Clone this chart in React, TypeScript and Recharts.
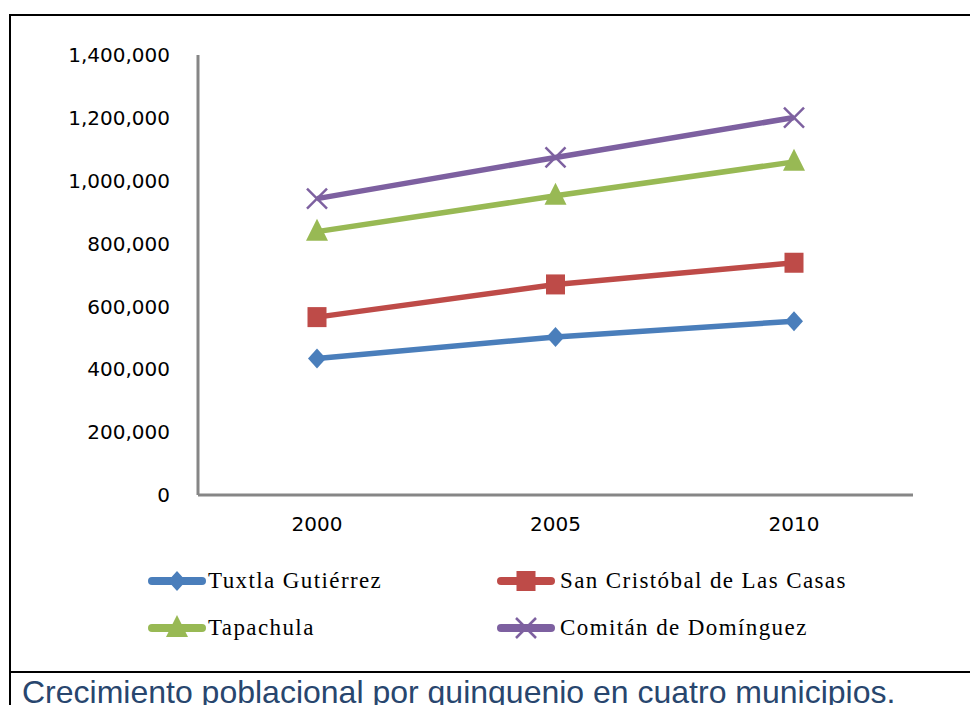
import React from 'react';
import { LineChart, Line, XAxis, YAxis, Legend } from 'recharts';

// Years on the x axis
const years = ['2000', '2005', '2010'];

// Values as drawn in the chart (each line sits on top of the previous one)
const tuxtla = [434000, 503000, 553000];
const sanCristobal = [566000, 670000, 739000];
const tapachula = [838000, 952000, 1060000];
const comitan = [943000, 1074000, 1201000];

const yTicks = [0, 200000, 400000, 600000, 800000, 1000000, 1200000, 1400000];

const seriesNames = ['Tuxtla Gutiérrez', 'San Cristóbal de Las Casas', 'Tapachula', 'Comitán de Domínguez'];
const seriesColors = ['#4a7ebb', '#be4b48', '#98b954', '#7d60a0'];
const seriesKeys = ['tuxtla', 'sanCristobal', 'tapachula', 'comitan'];
const markers = ['diamond', 'square', 'triangle', 'cross'];

const data = years.map((year, i) => ({
  year,
  tuxtla: tuxtla[i],
  sanCristobal: sanCristobal[i],
  tapachula: tapachula[i],
  comitan: comitan[i],
}));

const Marker = ({ type, cx, cy, color }: { type: string; cx: number; cy: number; color: string }) => {
  if (type === 'diamond') {
    return <polygon points={`${cx},${cy - 10} ${cx + 9},${cy} ${cx},${cy + 10} ${cx - 9},${cy}`} fill={color} />;
  }
  if (type === 'square') {
    return <rect x={cx - 9.5} y={cy - 10} width={19} height={20} fill={color} />;
  }
  if (type === 'triangle') {
    return <polygon points={`${cx},${cy - 13} ${cx + 11},${cy + 9} ${cx - 11},${cy + 9}`} fill={color} />;
  }
  return (
    <g stroke={color} strokeWidth={2.5}>
      <line x1={cx - 10} y1={cy - 10} x2={cx + 10} y2={cy + 10} />
      <line x1={cx - 10} y1={cy + 10} x2={cx + 10} y2={cy - 10} />
    </g>
  );
};

const makeDot = (type: string, color: string) => (props: any) => (
  <Marker key={`${type}-${props.index}`} type={type} cx={props.cx} cy={props.cy} color={color} />
);

const renderLegend = () => {
  const cols = [148, 497];
  const rows = [581, 628];
  return (
    <div style={{ position: 'relative', width: 970, height: 90 }}>
      {seriesNames.map((name, i) => {
        const left = cols[i % 2];
        const top = rows[Math.floor(i / 2)] - 556;
        return (
          <div key={name} style={{ position: 'absolute', left, top: top - 15, height: 30, display: 'flex', alignItems: 'center' }}>
            <svg width={58} height={30}>
              <line x1={4} y1={15} x2={54} y2={15} stroke={seriesColors[i]} strokeWidth={8} strokeLinecap="round" />
              <Marker type={markers[i]} cx={29} cy={15} color={seriesColors[i]} />
            </svg>
            <span
              style={{
                fontFamily: '"Liberation Serif", "Times New Roman", serif',
                fontSize: 23,
                letterSpacing: 1.4,
                color: '#000',
                marginLeft: i % 2 === 0 ? 2 : 5,
                whiteSpace: 'nowrap',
              }}
            >
              {name}
            </span>
          </div>
        );
      })}
    </div>
  );
};

export default function App() {
  return (
    <div style={{ position: 'absolute', left: 0, top: 0, width: 970, height: 705, overflow: 'hidden', background: '#fff' }}>
      {/* table frame */}
      <div style={{ position: 'absolute', left: 9, top: 14, width: 2, height: 700, background: '#000' }} />
      <div style={{ position: 'absolute', left: 9, top: 14, width: 970, height: 2, background: '#000' }} />
      <div style={{ position: 'absolute', left: 9, top: 671, width: 970, height: 2, background: '#000' }} />

      <div style={{ position: 'absolute', left: 0, top: 0 }}>
        <LineChart width={970} height={672} data={data} margin={{ top: 55, right: 57, bottom: 147, left: 0 }}>
          <XAxis
            dataKey="year"
            height={30}
            padding={{ left: 119, right: 119 }}
            axisLine={{ stroke: '#868686', strokeWidth: 3 }}
            tickLine={false}
            tickSize={0}
            tickMargin={22}
            tick={{ fill: '#000', fontSize: 20, fontFamily: '"DejaVu Sans", sans-serif' }}
          />
          <YAxis
            width={198}
            domain={[0, 1400000]}
            ticks={yTicks}
            interval={0}
            axisLine={{ stroke: '#868686', strokeWidth: 3 }}
            tickLine={false}
            tickSize={0}
            tickMargin={28}
            tickFormatter={(v: number) => v.toLocaleString('en-US')}
            tick={{ fill: '#000', fontSize: 20, fontFamily: '"DejaVu Sans", sans-serif' }}
          />
          <Legend
            layout="vertical"
            align="center"
            verticalAlign="middle"
            content={renderLegend}
            wrapperStyle={{ left: 0, top: 556, width: 970, height: 90 }}
          />
          {seriesKeys.map((key, i) => (
            <Line
              key={key}
              dataKey={key}
              name={seriesNames[i]}
              stroke={seriesColors[i]}
              strokeWidth={5.5}
              dot={makeDot(markers[i], seriesColors[i])}
              activeDot={false}
              isAnimationActive={false}
            />
          ))}
        </LineChart>
      </div>

      <div
        style={{
          position: 'absolute',
          left: 22,
          top: 676,
          fontFamily: '"Liberation Sans", Arial, sans-serif',
          fontSize: 32,
          lineHeight: '32px',
          color: '#28466e',
          whiteSpace: 'nowrap',
        }}
      >
        Crecimiento poblacional por quinquenio en cuatro municipios.
      </div>
    </div>
  );
}
